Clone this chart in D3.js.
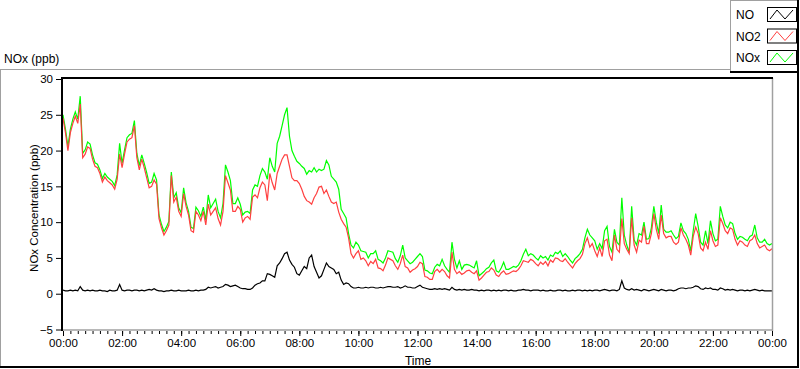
<!DOCTYPE html>
<html><head><meta charset="utf-8">
<script src="https://cdn.jsdelivr.net/npm/d3@7"></script>
<style>
html,body{margin:0;padding:0;background:#fff;}
svg{display:block;}
text{font-family:"Liberation Sans",Arial,sans-serif;fill:#000;}
</style></head>
<body><svg id="c" width="800" height="369"></svg>
<script>
// sampling interval of the series (minutes)
const stepMinutes = 5;
// x tick labels (every 2 hours)
const xTickMinutes = [0,120,240,360,480,600,720,840,960,1080,1200,1320,1440];
const xTickLabels = ["00:00","02:00","04:00","06:00","08:00","10:00","12:00","14:00","16:00","18:00","20:00","22:00","00:00"];
const yTicks = [-5,0,5,10,15,20,25,30];
const seriesNames = ["NO","NO2","NOx"];

// NO2 (ppb), one row per hour, 5-minute samples
const no2 = [
24.5,22.5,20.0,22.5,23.8,24.8,23.8,26.5,19.0,19.5,20.5,20.3,
18.8,17.8,17.6,16.8,15.6,16.3,15.8,15.5,15.2,14.6,16.0,19.5,
17.6,19.5,21.2,21.6,21.8,23.5,19.0,17.3,18.8,17.6,16.2,14.8,
15.0,15.9,15.3,10.5,9.2,8.2,8.8,9.6,16.5,12.8,13.5,11.5,
10.8,14.0,12.2,11.0,8.8,8.6,11.5,11.0,10.2,11.5,9.6,12.5,
11.0,11.5,12.0,10.5,9.6,11.5,16.5,15.5,14.5,11.5,11.5,12.2,
11.8,10.0,10.6,10.8,10.4,13.5,13.8,13.4,14.8,15.6,15.2,13.0,
16.8,15.5,14.5,16.8,17.8,18.8,19.4,19.4,17.8,16.2,15.8,15.8,
15.4,14.6,13.6,13.0,12.8,12.5,13.4,14.0,14.9,15.0,14.0,14.5,
13.6,12.8,12.6,12.8,11.4,10.4,9.8,9.3,7.8,5.6,5.0,5.6,
6.0,4.8,5.0,4.6,3.9,4.5,4.2,4.8,3.6,3.5,3.2,4.0,
5.0,4.8,4.6,3.9,3.4,4.2,5.4,3.8,3.6,3.0,3.3,3.5,
3.8,4.4,4.2,2.4,2.3,2.0,2.0,3.1,3.4,3.0,3.4,3.1,
2.5,2.2,5.8,3.4,2.8,3.1,2.7,2.9,3.2,3.3,3.0,2.8,
3.2,1.9,2.2,2.6,3.0,3.1,3.6,3.3,2.6,2.4,2.9,3.2,
2.7,2.8,3.0,3.2,3.1,3.4,3.9,4.6,4.5,4.4,4.8,4.6,
4.2,3.9,4.4,4.1,4.5,3.9,4.7,4.4,5.0,4.9,4.6,4.5,
4.9,4.4,4.0,3.6,4.2,4.6,4.9,5.5,7.0,7.8,6.5,7.0,
6.0,5.2,6.4,5.2,7.4,7.6,5.4,4.6,8.2,6.2,5.8,10.5,
7.0,6.2,5.6,10.6,6.8,5.8,7.5,7.2,9.4,7.0,7.0,8.4,
11.2,9.0,7.6,11.0,8.4,7.8,8.0,8.0,7.2,6.9,7.2,9.2,
8.2,7.6,6.8,5.4,8.0,9.3,8.4,6.4,6.0,7.2,6.2,8.8,
7.4,6.6,6.8,10.6,9.8,8.8,8.4,9.2,9.0,7.6,6.8,7.4,
7.2,6.8,6.6,7.4,7.6,8.2,7.0,6.4,6.6,6.8,6.2,6.0,
6.3];

// NOx (ppb)
const nox = [
25.0,23.0,20.6,23.0,24.4,25.4,24.4,27.6,19.6,20.1,21.2,20.9,
19.4,18.3,18.1,17.3,16.1,16.8,16.3,16.0,15.7,15.1,16.6,21.0,
18.2,20.1,21.8,22.2,22.4,24.2,19.6,17.9,19.4,18.2,16.9,15.4,
15.6,16.8,15.9,11.0,9.7,8.7,9.3,10.1,17.0,13.4,14.1,12.0,
11.3,14.8,12.7,11.5,9.3,9.1,12.1,11.6,10.8,12.1,10.3,13.8,
12.0,12.6,13.2,11.5,10.6,12.6,18.0,17.0,15.8,12.6,12.6,13.4,
12.5,11.0,11.4,11.5,11.2,14.5,15.2,15.0,16.5,17.5,17.0,16.0,
19.0,17.8,17.0,21.0,22.0,23.5,25.0,26.0,22.0,20.0,19.2,18.5,
18.2,17.8,17.5,16.7,17.2,17.0,17.6,17.0,17.4,17.2,17.4,18.6,
18.0,16.4,16.0,15.6,14.6,11.8,11.2,10.6,8.4,6.8,6.4,7.2,
6.8,6.0,5.9,5.8,5.0,5.6,5.6,6.0,4.8,4.6,4.3,5.0,
6.0,5.9,5.8,4.9,4.4,5.3,6.8,5.0,4.6,4.2,4.4,4.8,
5.2,5.6,5.2,3.3,3.2,2.9,2.8,3.7,4.1,3.9,4.8,3.9,
3.4,3.0,7.2,4.8,3.6,4.6,3.4,4.0,4.1,4.0,3.8,3.6,
4.6,2.5,2.8,3.1,3.5,3.7,4.3,4.7,3.2,3.0,3.6,4.4,
3.4,3.4,3.6,3.8,3.7,4.0,4.6,5.5,6.2,5.3,5.6,5.4,
5.0,4.7,5.3,5.0,5.2,4.7,5.4,5.2,5.8,5.6,6.0,5.2,
5.6,5.2,4.7,4.3,4.9,5.2,5.6,6.2,7.8,9.0,8.2,7.8,
7.4,6.2,7.0,6.3,8.8,9.4,6.6,5.8,9.0,7.2,6.8,13.4,
8.2,6.8,5.8,12.2,7.5,6.8,8.4,8.2,10.0,7.6,7.7,9.2,
12.2,10.0,8.4,12.4,9.0,8.6,8.6,8.8,8.2,7.7,8.0,9.9,
8.8,8.4,7.6,6.0,8.8,11.2,9.4,7.2,6.8,8.8,7.0,10.2,
8.4,7.4,7.6,12.2,10.8,9.6,9.2,10.0,9.8,8.4,7.6,8.0,
7.9,7.6,7.4,8.0,8.2,9.6,7.8,7.2,7.2,7.6,7.0,6.8,
7.0];

// NO (ppb)
const no = [
0.5,0.4,0.4,0.5,0.4,0.5,0.4,1.0,0.5,0.4,0.5,0.4,
0.5,0.4,0.4,0.5,0.4,0.4,0.3,0.5,0.4,0.4,0.5,1.3,
0.5,0.4,0.5,0.5,0.4,0.5,0.5,0.4,0.5,0.4,0.5,0.6,
0.5,0.7,0.5,0.4,0.4,0.3,0.4,0.4,0.5,0.4,0.4,0.5,
0.4,0.4,0.4,0.5,0.4,0.4,0.5,0.4,0.5,0.5,0.6,0.9,
0.8,0.9,1.0,0.8,0.9,1.0,1.3,1.2,1.0,1.1,1.2,1.0,
0.8,0.7,0.7,0.6,0.6,0.8,1.2,1.4,1.5,1.8,1.8,2.8,
2.7,2.5,2.3,3.9,4.3,4.9,5.6,5.8,4.7,4.1,3.7,2.8,
2.6,3.2,3.8,3.5,5.0,5.4,3.8,3.0,2.2,2.5,3.4,4.3,
3.8,3.6,3.4,2.8,3.0,1.9,1.3,1.5,1.4,1.0,0.8,0.8,
0.9,0.8,0.8,0.9,0.8,0.9,0.9,0.8,0.8,0.9,0.8,0.9,
1.0,1.0,0.9,0.9,1.0,0.8,0.9,1.1,0.9,0.9,0.8,0.8,
1.0,1.2,0.9,0.8,0.7,0.6,0.6,0.7,0.6,0.7,0.6,0.7,
0.6,0.5,0.9,0.6,0.5,0.6,0.5,0.6,0.5,0.5,0.6,0.5,
0.5,0.4,0.5,0.4,0.5,0.5,0.4,0.5,0.4,0.5,0.4,0.5,
0.5,0.4,0.5,0.4,0.4,0.5,0.5,0.6,0.5,0.5,0.4,0.5,
0.5,0.5,0.4,0.5,0.4,0.4,0.5,0.4,0.4,0.5,0.5,0.4,
0.5,0.4,0.4,0.5,0.4,0.5,0.5,0.4,0.5,0.4,0.5,0.4,
0.5,0.5,0.4,0.5,0.6,0.5,0.4,0.5,0.5,0.4,0.6,1.8,
0.8,0.6,0.5,0.7,0.5,0.6,0.5,0.4,0.6,0.5,0.4,0.5,
0.6,0.5,0.4,0.6,0.5,0.4,0.5,0.5,0.4,0.5,0.7,0.8,
0.8,0.7,0.8,0.8,0.9,1.1,1.0,0.7,0.6,0.8,0.7,0.8,
0.6,0.6,0.5,0.8,0.7,0.5,0.6,0.5,0.6,0.5,0.4,0.5,
0.5,0.4,0.5,0.4,0.5,0.6,0.5,0.4,0.5,0.4,0.4,0.4,
0.4];

const colors = {NO:"#000000", NO2:"#ff4040", NOx:"#00ff00"};

const svg = d3.select("#c");
const x = d3.scaleLinear().domain([0,1440]).range([63,772]);
const y = d3.scaleLinear().domain([-5,30]).range([329.5,79]);

// outer panel frame
svg.append("line").attr("x1",0).attr("x2",731).attr("y1",69.5).attr("y2",69.5).attr("stroke","#a0a0a0");
svg.append("line").attr("x1",0.5).attr("x2",0.5).attr("y1",69).attr("y2",367).attr("stroke","#a0a0a0");
svg.append("line").attr("x1",0).attr("x2",799).attr("y1",367).attr("y2",367).attr("stroke","#000").attr("stroke-width",2);
svg.append("line").attr("x1",798).attr("x2",798).attr("y1",72).attr("y2",368).attr("stroke","#000").attr("stroke-width",2);

// graph title
svg.append("text").attr("x",4).attr("y",63).style("font-size","12px").text("NOx (ppb)");

// plot area clip
svg.append("clipPath").attr("id","pc").append("rect").attr("x",63).attr("y",79).attr("width",709).attr("height",250);

const line = d3.line().x((d,i)=>x(i*stepMinutes)).y(d=>y(d));
const g = svg.append("g").attr("clip-path","url(#pc)");
[["NOx",nox],["NO2",no2],["NO",no]].forEach(([n,arr])=>{
  g.append("path").datum(arr).attr("d",line).attr("fill","none")
   .attr("stroke",colors[n]).attr("stroke-width",1.2).attr("stroke-linejoin","miter");
});

// plot borders
svg.append("line").attr("x1",772.5).attr("x2",772.5).attr("y1",78).attr("y2",331).attr("stroke","#a0a0a0").attr("stroke-width",1.5);
svg.append("line").attr("x1",62).attr("x2",773).attr("y1",330).attr("y2",330).attr("stroke","#a0a0a0").attr("stroke-width",1.5);
svg.append("line").attr("x1",62).attr("x2",773).attr("y1",78).attr("y2",78).attr("stroke","#000").attr("stroke-width",2);
svg.append("line").attr("x1",62).attr("x2",62).attr("y1",77).attr("y2",331).attr("stroke","#000").attr("stroke-width",2);

// y axis
const ya = svg.append("g").attr("transform","translate(61,0)")
  .call(d3.axisLeft(y).tickValues(yTicks).tickSize(5).tickSizeOuter(0).tickPadding(3));
ya.select(".domain").remove();
ya.selectAll("text").style("font-size","11.5px").style("font-family","'Liberation Sans',Arial,sans-serif").attr("fill","#000");
ya.selectAll("line").attr("stroke","#000");

// x axis minor
const minor = d3.range(0,1441,15);
const xm = svg.append("g").attr("transform","translate(0,331)")
  .call(d3.axisBottom(x).tickValues(minor).tickSize(3).tickSizeOuter(0).tickFormat(""));
xm.select(".domain").remove();
xm.selectAll("line").attr("stroke","#000");
// x axis major
const xa = svg.append("g").attr("transform","translate(0,331)")
  .call(d3.axisBottom(x).tickValues(xTickMinutes).tickSize(5).tickSizeOuter(0).tickPadding(3)
  .tickFormat((d,i)=>xTickLabels[i]));
xa.select(".domain").remove();
xa.selectAll("line").attr("stroke","#000");
xa.selectAll("text").style("font-size","11.5px").style("font-family","'Liberation Sans',Arial,sans-serif").attr("fill","#000");

// axis titles
svg.append("text").attr("x",418).attr("y",365).attr("text-anchor","middle").style("font-size","12px").text("Time");
svg.append("text").attr("transform","translate(38,208) rotate(-90)").attr("text-anchor","middle").style("font-size","11.5px").text("NOx Concentration (ppb)");

// legend
const lg = svg.append("g");
lg.append("line").attr("x1",730.5).attr("x2",730.5).attr("y1",0).attr("y2",72).attr("stroke","#a0a0a0");
lg.append("line").attr("x1",730).attr("x2",799).attr("y1",0.5).attr("y2",0.5).attr("stroke","#a0a0a0");
lg.append("line").attr("x1",730).attr("x2",799).attr("y1",72).attr("y2",72).attr("stroke","#000").attr("stroke-width",2);
lg.append("line").attr("x1",798).attr("x2",798).attr("y1",0).attr("y2",73).attr("stroke","#000").attr("stroke-width",2);
seriesNames.forEach((n,i)=>{
  const yy = 7 + i*21.5;
  lg.append("text").attr("x",736).attr("y",yy+12).style("font-size","12px").text(n);
  lg.append("rect").attr("x",767.5).attr("y",yy+0.5).attr("width",29).attr("height",14).attr("fill","#fff").attr("stroke","#000");
  const pts = [[770,yy+12],[777,yy+3],[785,yy+12],[793,yy+3]];
  lg.append("path").attr("d",d3.line()(pts)).attr("fill","none").attr("stroke",colors[n]).attr("stroke-width",1);
});
</script></body></html>
